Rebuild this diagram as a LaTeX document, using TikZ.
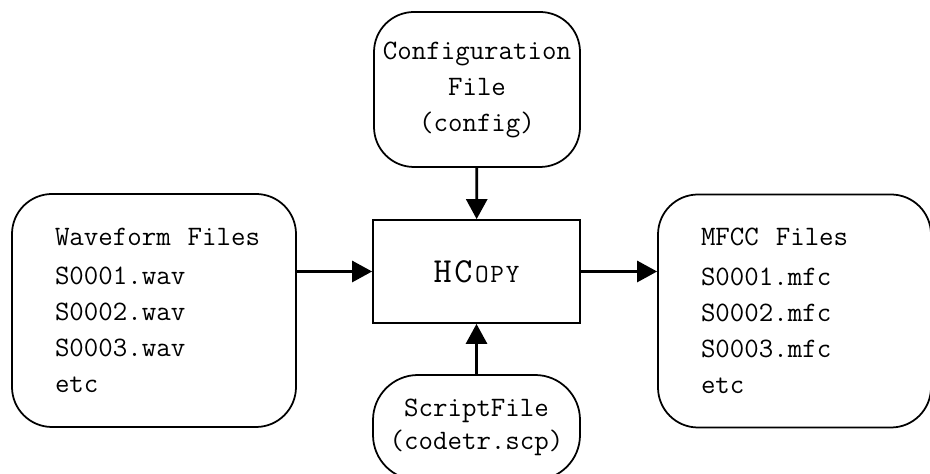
\documentclass[tikz,border=0pt]{standalone}
\usepackage{fontspec}
\usepackage{tikz}
\usetikzlibrary{arrows.meta}

\begin{document}
\begin{tikzpicture}[
    filebox/.style={draw,line width=1pt,rounded corners=0.8cm,font=\ttfamily\fontsize{16}{20.5}\selectfont},
    listbox/.style={filebox,align=left,inner xsep=0.86cm,minimum height=4.66cm},
    toolbox/.style={draw,line width=1pt,minimum width=4.14cm,minimum height=2.06cm},
    flow/.style={line width=1.6pt,-{Triangle[length=0.4cm,width=0.42cm]}}
]
                    \clip (0,0) rectangle (18.6,9.48);

                    \node[toolbox] (hcopy) at (9.53,4.05) {\ttfamily\fontsize{20}{20}\selectfont H\kern1.5pt C\kern1.5pt{\fontsize{15}{15}\selectfont O\kern1pt P\kern1pt Y}};
                    \node[filebox,align=center,minimum width=4.12cm,minimum height=3.1cm] (config) at (9.54,7.69) {Configuration\\File\\(config)};
                    \node[filebox,align=center,minimum width=4.14cm,minimum height=2.1cm,rounded corners=0.9cm] (script) at (9.53,0.93) {ScriptFile\\[-2pt](codetr.scp)};
                    \node[listbox,text width=3.96cm] (wave) at (3.08,3.27) {\mbox{Waveform\hspace{0.6em}Files}\\[2pt]S0001.wav\\S0002.wav\\S0003.wav\\etc};
                    \node[listbox,text width=3.74cm] (mfcc) at (15.89,3.26) {\mbox{MFCC\hspace{0.6em}Files}\\[2pt]S0001.mfc\\S0002.mfc\\S0003.mfc\\etc};

                    \draw[flow] (config) -- (hcopy);
                    \draw[flow] (script) -- (hcopy);
                    \draw[flow] (wave.east |- hcopy) -- (hcopy.west);
                    \draw[flow] (hcopy.east) -- (mfcc.west |- hcopy);
\end{tikzpicture}
\end{document}
